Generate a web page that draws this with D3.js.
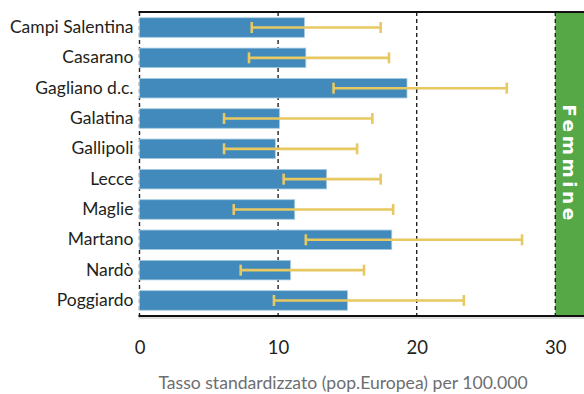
<!DOCTYPE html>
<html><head><meta charset="utf-8">
<script src="https://cdn.jsdelivr.net/npm/d3@7"></script>
<style>body{margin:0;background:#fff}svg{display:block}</style>
</head><body>
<svg id="chart" width="584" height="394"></svg>
<script>
const categories = ["Campi Salentina","Casarano","Gagliano d.c.","Galatina","Gallipoli","Lecce","Maglie","Martano","Nardò","Poggiardo"];
const rates = [11.9, 12.0, 19.3, 10.1, 9.8, 13.5, 11.2, 18.2, 10.9, 15.0];
const lower = [8.1, 7.9, 14.0, 6.1, 6.1, 10.4, 6.8, 12.0, 7.3, 9.7];
const upper = [17.4, 18.0, 26.5, 16.8, 15.7, 17.4, 18.3, 27.6, 16.2, 23.4];
const xTicks = [0, 10, 20, 30];
const panelLabel = "Femmine";
const axisTitle = "Tasso standardizzato (pop.Europea) per 100.000";

const svg = d3.select("#chart");
const L = 139.5, R = 555.3, T = 12, B = 316;
const x = d3.scaleLinear().domain([0, 30]).range([L, R]);
const y = d3.scaleBand().domain(categories).range([T, B]).paddingInner(0.355).paddingOuter(0.19);

// green panel
svg.append("rect").attr("x", R).attr("y", T).attr("width", 584 - R).attr("height", B - T).attr("fill", "#55a845");
svg.append("text").attr("transform", `translate(562.5,${(T + B) / 2}) rotate(90)`)
  .attr("text-anchor", "middle").attr("fill", "#fff")
  .style("font-family", "'DejaVu Sans'").style("font-weight", "bold").style("font-size", "18.5px")
  .style("letter-spacing", "3.5px").text(panelLabel);

// dashed grid
svg.append("g").selectAll("line").data(xTicks).join("line")
  .attr("x1", d => x(d)).attr("x2", d => x(d)).attr("y1", T).attr("y2", B)
  .attr("stroke", "#222").attr("stroke-width", 1.4).attr("stroke-dasharray", "4,3");

// bars
svg.append("g").selectAll("rect").data(categories).join("rect")
  .attr("x", x(0)).attr("y", d => y(d)).attr("width", (d, i) => x(rates[i]) - x(0)).attr("height", y.bandwidth())
  .attr("fill", "#418abb").attr("stroke", "#a8cbe2").attr("stroke-width", 0.8);

// error bars
const eb = svg.append("g").attr("stroke", "#e8c961").attr("stroke-width", 2.6).attr("fill", "none");
categories.forEach((c, i) => {
  const cy = y(c) + y.bandwidth() / 2;
  eb.append("line").attr("x1", x(lower[i])).attr("x2", x(upper[i])).attr("y1", cy).attr("y2", cy);
  eb.append("line").attr("x1", x(lower[i])).attr("x2", x(lower[i])).attr("y1", cy - 5.5).attr("y2", cy + 5.5);
  eb.append("line").attr("x1", x(upper[i])).attr("x2", x(upper[i])).attr("y1", cy - 5.5).attr("y2", cy + 5.5);
});

// top / bottom lines
svg.append("line").attr("x1", L - 1).attr("x2", 584).attr("y1", T).attr("y2", T).attr("stroke", "#111").attr("stroke-width", 2);
svg.append("line").attr("x1", L - 1).attr("x2", 584).attr("y1", B).attr("y2", B).attr("stroke", "#111").attr("stroke-width", 2);
svg.append("line").attr("x1", L - 1).attr("x2", 584).attr("y1", B + 2).attr("y2", B + 2).attr("stroke", "#bbb").attr("stroke-width", 1);

// category labels
const yAxis = d3.axisLeft(y).tickSize(0).tickPadding(0);
const ya = svg.append("g").attr("transform", `translate(${L - 6},0)`).call(yAxis);
ya.select(".domain").remove();
ya.selectAll("text").attr("fill", "#231f20").style("font-family", "Lato").style("font-size", "17.5px");

// x ticks
const xAxis = d3.axisBottom(x).tickValues(xTicks).tickSize(0).tickPadding(0).tickFormat(d3.format("d"));
const xa = svg.append("g").attr("transform", `translate(0,${341})`).call(xAxis);
xa.select(".domain").remove();
xa.selectAll("text").attr("fill", "#231f20").style("font-family", "Lato").style("font-size", "18.5px");

svg.append("text").attr("x", 343).attr("y", 389).attr("text-anchor", "middle")
  .attr("fill", "#6d6e70").style("font-family", "Lato").style("font-size", "17.6px").text(axisTitle);
</script>
</body></html>
